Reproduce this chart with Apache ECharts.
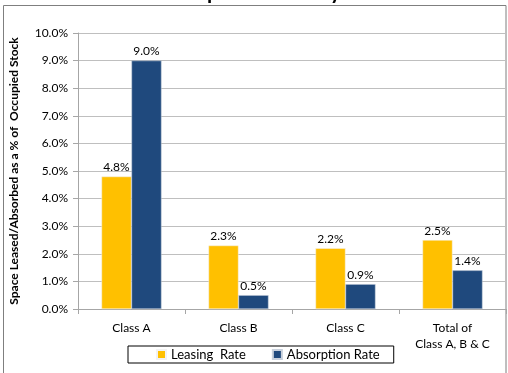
<!DOCTYPE html>
<html lang="en">
<head>
    <meta charset="UTF-8">
    <title>Absorption Rates by Class</title>
    <style>
        html, body { margin: 0; padding: 0; background: #fff; }
        .box { width: 508px; height: 373px; }
    </style>
</head>
<body>
    <div class="box"></div>
    <script src="https://cdn.jsdelivr.net/npm/echarts@6/dist/echarts.min.js"></script>
    <script>
        var categories = ['Class A', 'Class B', 'Class C', 'Total of\nClass A, B & C'];
        var leasingRate = [4.8, 2.3, 2.2, 2.5];
        var absorptionRate = [9.0, 0.5, 0.9, 1.4];
        var seriesNames = ['Leasing  Rate', 'Absorption Rate'];

        var font = 'Lato, "Open Sans", sans-serif';
        var myChart = echarts.init(document.getElementsByClassName('box')[0]);

        function pct(v) {
            return v.toFixed(1) + '%';
        }

        var option = {
            animation: false,
            textStyle: { fontFamily: font },
            title: {
                text: 'Absorption Rates by Class',
                left: 268,
                textAlign: 'center',
                top: -23,
                textStyle: { fontSize: 21, fontWeight: 'bold', color: '#000', fontFamily: font }
            },
            graphic: [{
                type: 'rect',
                shape: { x: 3.5, y: 5.5, width: 502.5, height: 380 },
                style: { fill: 'none', stroke: '#7f7f7f', lineWidth: 1 },
                silent: true
            }],
            legend: {
                data: seriesNames,
                left: 128,
                bottom: 10,
                itemWidth: 9,
                itemHeight: 9,
                itemGap: 26,
                padding: [2, 14, 2, 28],
                borderColor: '#000',
                borderWidth: 1,
                icon: 'rect',
                textStyle: { fontSize: 13, color: '#000', fontFamily: font }
            },
            grid: {
                left: 78,
                right: 2,
                top: 33,
                bottom: 64
            },
            xAxis: {
                type: 'category',
                data: categories,
                axisLine: { lineStyle: { color: '#a6a6a6' } },
                axisTick: { show: true, length: 5, lineStyle: { color: '#a6a6a6' } },
                axisLabel: { fontSize: 12, color: '#000', margin: 11, lineHeight: 16, fontFamily: font }
            },
            yAxis: {
                type: 'value',
                min: 0,
                max: 10,
                interval: 1,
                name: 'Space Leased/Absorbed as a % of  Occupied Stock',
                nameLocation: 'middle',
                nameGap: 58,
                nameTextStyle: { fontSize: 12, fontWeight: 'bold', color: '#000', fontFamily: font },
                axisLine: { show: true, lineStyle: { color: '#a6a6a6' } },
                axisTick: { show: true, length: 5, lineStyle: { color: '#a6a6a6' } },
                axisLabel: {
                    fontSize: 12,
                    color: '#000',
                    margin: 10,
                    fontFamily: font,
                    formatter: function (v) { return pct(v); }
                },
                splitLine: { lineStyle: { color: '#bfbfbf' } }
            },
            series: [
                {
                    name: seriesNames[0],
                    type: 'bar',
                    data: leasingRate,
                    barWidth: 30,
                    barGap: '0%',
                    itemStyle: { color: '#FFC000', borderColor: '#f2f2f2', borderWidth: 0.5 },
                    label: {
                        show: true,
                        position: 'top',
                        distance: 3,
                        fontSize: 12,
                        color: '#000',
                        fontFamily: font,
                        formatter: function (p) { return pct(p.value); }
                    }
                },
                {
                    name: seriesNames[1],
                    type: 'bar',
                    data: absorptionRate,
                    barWidth: 30,
                    barGap: '0%',
                    itemStyle: { color: '#1F497D', borderColor: '#c8d0dc', borderWidth: 0.5 },
                    label: {
                        show: true,
                        position: 'top',
                        distance: 3,
                        fontSize: 12,
                        color: '#000',
                        fontFamily: font,
                        formatter: function (p) { return pct(p.value); }
                    }
                }
            ]
        };
        myChart.setOption(option);
    </script>
</body>
</html>
